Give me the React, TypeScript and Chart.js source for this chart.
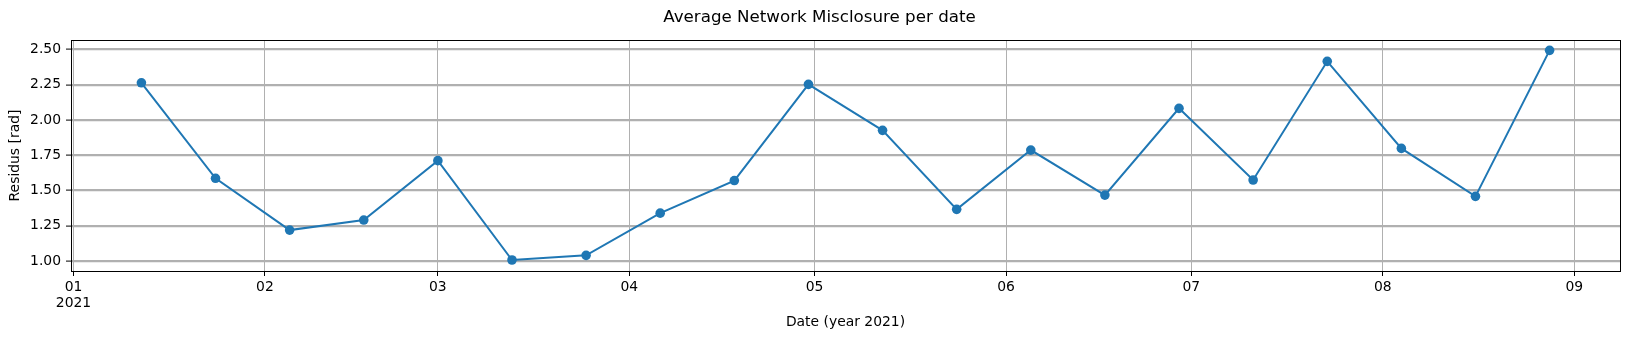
import React, { useEffect, useRef } from "react";
import { Chart, registerables } from "chart.js";

Chart.register(...registerables);

const chartTitle = "Average Network Misclosure per date";
const xAxisTitle = "Date (year 2021)";
const yAxisTitle = "Residus [rad]";

const dates = [
  "2021-01-12", "2021-01-24", "2021-02-05", "2021-02-17", "2021-03-01",
  "2021-03-13", "2021-03-25", "2021-04-06", "2021-04-18", "2021-04-30",
  "2021-05-12", "2021-05-24", "2021-06-05", "2021-06-17", "2021-06-29",
  "2021-07-11", "2021-07-23", "2021-08-04", "2021-08-16", "2021-08-28",
];

const residus = [
  2.263, 1.586, 1.219, 1.290, 1.711,
  1.007, 1.040, 1.339, 1.570, 2.252,
  1.926, 1.366, 1.786, 1.467, 2.082,
  1.574, 2.415, 1.798, 1.458, 2.493,
];

const monthTickDates = [
  "2021-01-01", "2021-02-01", "2021-03-01", "2021-04-01", "2021-05-01",
  "2021-06-01", "2021-07-01", "2021-08-01", "2021-09-01",
];
const monthTickLabels = ["01", "02", "03", "04", "05", "06", "07", "08", "09"];
const yearLabel = "2021";

const yTicks = [1.0, 1.25, 1.5, 1.75, 2.0, 2.25, 2.5];

const xMinDate = -0.4; // days from Jan 1 (matplotlib 5% margin)
const xMaxDate = 250.4;
const yMin = 0.929;
const yMax = 2.566;

const DAY = 86400000;
const origin = Date.UTC(2021, 0, 1);
const toDay = (s: string) => {
  const [y, m, d] = s.split("-").map(Number);
  return (Date.UTC(y, m - 1, d) - origin) / DAY;
};

const FONT = "'DejaVu Sans', sans-serif";

const frame = {
  id: "frame",
  afterDraw(chart: any) {
    const { ctx, chartArea } = chart;
    ctx.save();
    ctx.strokeStyle = "#000";
    ctx.lineWidth = 1;
    ctx.strokeRect(
      Math.round(chartArea.left) + 0.5,
      Math.round(chartArea.top) + 0.5,
      Math.round(chartArea.right - chartArea.left),
      Math.round(chartArea.bottom - chartArea.top)
    );
    ctx.restore();
  },
};

export default function App() {
  const ref = useRef<HTMLCanvasElement | null>(null);

  useEffect(() => {
    if (!ref.current) return;
    const tickDays = monthTickDates.map(toDay);
    const chart = new Chart(ref.current, {
      type: "line",
      data: {
        datasets: [
          {
            data: dates.map((d, i) => ({ x: toDay(d), y: residus[i] })),
            borderColor: "#1f77b4",
            backgroundColor: "#1f77b4",
            borderWidth: 2,
            pointRadius: 4.8,
            pointBorderWidth: 0,
            pointBackgroundColor: "#1f77b4",
            tension: 0,
          },
        ],
      },
      options: {
        responsive: false,
        animation: false,
        layout: { padding: { left: 19, right: 10, top: 0, bottom: 0 } },
        plugins: {
          legend: { display: false },
          tooltip: { enabled: false },
          title: {
            display: true,
            text: chartTitle,
            color: "#000",
            font: { family: FONT, size: 16.7, weight: "normal" },
            padding: { top: 8, bottom: 12 },
          },
        },
        scales: {
          x: {
            type: "linear",
            min: xMinDate,
            max: xMaxDate,
            afterFit: (s: any) => {
              s.height = 69;
            },
            afterBuildTicks: (s: any) => {
              s.ticks = tickDays.map((v) => ({ value: v }));
            },
            ticks: {
              autoSkip: false,
              maxRotation: 0,
              minRotation: 0,
              color: "#000",
              padding: 3.4,
              font: { family: FONT, size: 13.9, lineHeight: 1.13 },
              callback: (v: any) => {
                const i = tickDays.indexOf(Number(v));
                if (i < 0) return "";
                return i === 0 ? [monthTickLabels[i], yearLabel] : monthTickLabels[i];
              },
            },
            grid: {
              color: "#b0b0b0",
              lineWidth: 1,
              tickLength: 5,
              tickColor: "#000",
              tickWidth: 1,
            },
            border: { display: false },
            title: {
              display: true,
              text: xAxisTitle,
              color: "#000",
              font: { family: FONT, size: 13.9 },
              padding: { top: 0, bottom: 9.6 },
            },
          },
          y: {
            type: "linear",
            min: yMin,
            max: yMax,
            afterFit: (s: any) => {
              s.width = 52;
            },
            afterBuildTicks: (s: any) => {
              s.ticks = yTicks.map((v) => ({ value: v }));
            },
            ticks: {
              autoSkip: false,
              color: "#000",
              padding: 5,
              font: { family: FONT, size: 13.9 },
              callback: (v: any) => Number(v).toFixed(2),
            },
            grid: {
              color: "#b0b0b0",
              lineWidth: 2.2,
              tickLength: 5,
              tickColor: "#000",
              tickWidth: 1,
            },
            border: { display: false },
            title: {
              display: true,
              text: yAxisTitle,
              color: "#000",
              font: { family: FONT, size: 13.9 },
              padding: { top: -12.4, bottom: 0 },
            },
          },
        },
      },
      plugins: [frame],
    });
    return () => chart.destroy();
  }, []);

  return (
    <div style={{ position: "absolute", left: 0, top: 0, width: 1630, height: 340, background: "#fff" }}>
      <canvas ref={ref} width={1630} height={340} />
    </div>
  );
}
